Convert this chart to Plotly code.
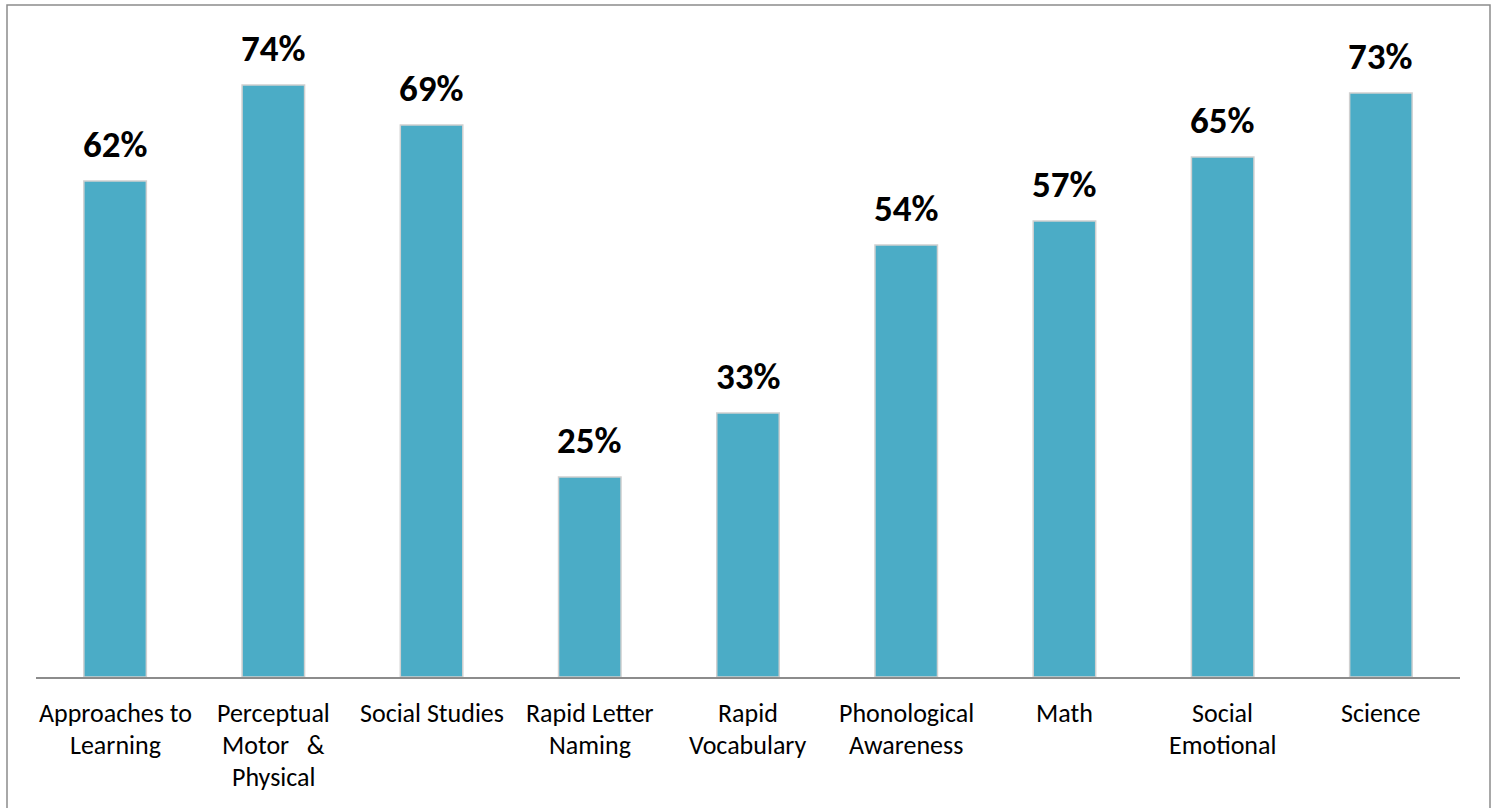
import plotly.graph_objects as go

categories = ["Approaches to Learning", "Perceptual Motor & Physical", "Social Studies",
              "Rapid Letter Naming", "Rapid Vocabulary", "Phonological Awareness",
              "Math", "Social Emotional", "Science"]
tick_lines = [["Approaches to", "Learning"],
              ["Perceptual", "Motor\u00a0\u00a0\u00a0&", "Physical"],
              ["Social Studies"],
              ["Rapid Letter", "Naming"],
              ["Rapid", "Vocabulary"],
              ["Phonological", "Awareness"],
              ["Math"],
              ["Social", "Emotional"],
              ["Science"]]
values = [62, 74, 69, 25, 33, 54, 57, 65, 73]

FONT = "Carlito, Lato, sans-serif"
W, H = 1494, 808
ml, mr, mt, mb = 36, 34, 37, 131
pw, ph = W - ml - mr, H - mt - mb

fig = go.Figure()
fig.add_trace(go.Bar(
    x=categories, y=values,
    marker=dict(color="#4BACC6", line=dict(color="#d0d0d0", width=1.5)),
    hoverinfo="skip",
))

annotations = []
for c, v in zip(categories, values):
    annotations.append(dict(x=c, y=v, xref="x", yref="y", text=f"<b>{v}%</b>",
                            showarrow=False, yanchor="bottom", yshift=12,
                            font=dict(family=FONT, size=37, color="black")))
for c, lines in zip(categories, tick_lines):
    for i, ln in enumerate(lines):
        annotations.append(dict(x=c, y=0, xref="x", yref="paper", text=ln,
                                showarrow=False, yanchor="middle",
                                yshift=-(36 + 32 * i),
                                font=dict(family=FONT, size=26, color="black")))

fig.update_layout(
    width=W, height=H,
    margin=dict(l=ml, r=mr, t=mt, b=mb),
    paper_bgcolor="white", plot_bgcolor="white",
    bargap=0.605,
    showlegend=False,
    annotations=annotations,
    xaxis=dict(showticklabels=False, showline=True, linecolor="#8c8c8c", linewidth=1.5,
               ticks="", showgrid=False, zeroline=False),
    yaxis=dict(range=[0, 80], visible=False, showgrid=False, zeroline=False),
    shapes=[dict(type="rect", xref="paper", yref="paper",
                 x0=(7 - ml) / pw, x1=(1490 - ml) / pw,
                 y0=(H - mb - 812) / ph, y1=(H - mb - 5) / ph,
                 line=dict(color="#8c8c8c", width=1.5), layer="below")],
)

fig.write_html("out.html", config={"displayModeBar": False},
               post_script="document.body.style.margin='0';document.body.style.overflow='hidden';")
